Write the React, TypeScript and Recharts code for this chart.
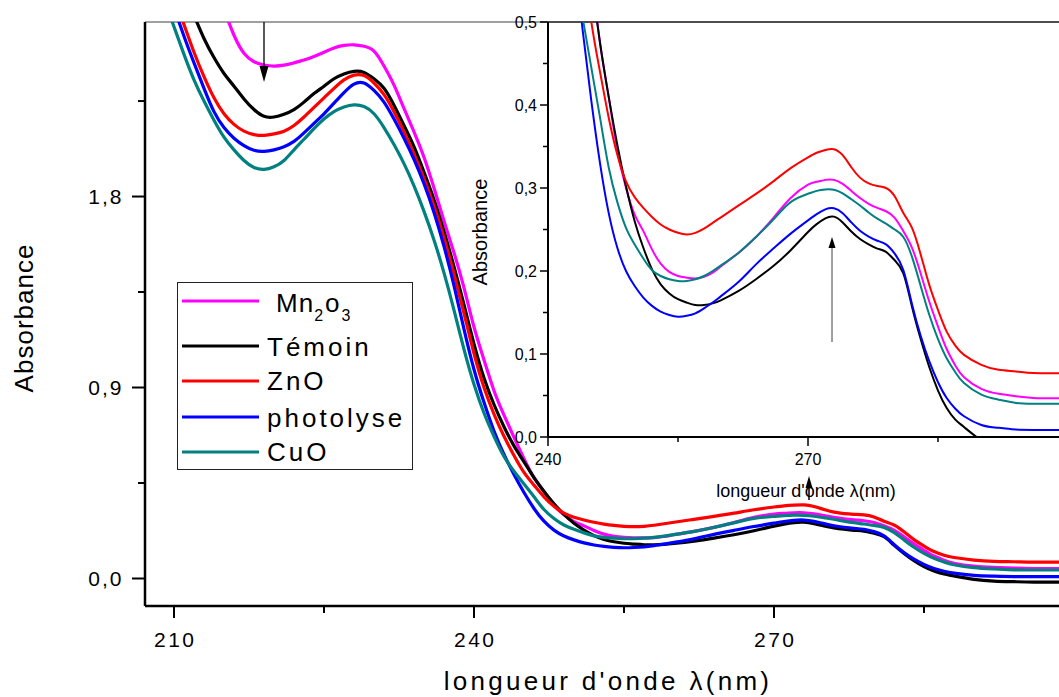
import React from 'react';
import { LineChart, Line, XAxis, YAxis, ReferenceLine, Legend } from 'recharts';

const FONT = "'Liberation Sans', Arial, Helvetica, sans-serif";

// wavelength (nm)
const WAVELENGTH = [
  207, 208, 209, 210, 211, 212, 213, 214, 215, 216, 217, 218, 219, 220, 221, 222, 223, 224, 225, 226,
  227, 228, 229, 230, 231, 232, 233, 234, 235, 236, 237, 238, 239, 240, 241, 242, 243, 244, 245, 246,
  247, 248, 249, 250, 251, 252, 253, 254, 255, 256, 257, 258, 259, 260,
  262, 264, 266, 268, 270, 271, 272, 273, 274, 275, 276, 277, 278, 279, 280, 281, 282, 283, 284, 285,
  286, 287, 288, 290, 292, 294, 296, 299,
];

const MN2O3 = [
  4.06, 3.88, 3.7, 3.52, 3.34, 3.16, 2.99, 2.83, 2.685, 2.56, 2.475, 2.435, 2.42, 2.415, 2.419, 2.43, 2.443, 2.46, 2.48, 2.5,
  2.512, 2.515, 2.508, 2.485, 2.415, 2.325, 2.215, 2.105, 1.985, 1.84, 1.685, 1.535, 1.37, 1.185, 1.03, 0.885, 0.77, 0.665, 0.565, 0.475,
  0.41, 0.345, 0.3, 0.268, 0.248, 0.226, 0.209, 0.199, 0.194, 0.192, 0.191, 0.193, 0.198, 0.206,
  0.222, 0.241, 0.264, 0.288, 0.304, 0.3075, 0.3098, 0.3098, 0.305, 0.2965, 0.288, 0.281, 0.276, 0.272, 0.264, 0.248, 0.228, 0.197, 0.163, 0.133,
  0.106, 0.086, 0.072, 0.058, 0.052, 0.049, 0.047, 0.0466,
];

const TEMOIN = [
  3.28, 3.15, 3.025, 2.9, 2.775, 2.655, 2.545, 2.455, 2.38, 2.32, 2.26, 2.21, 2.178, 2.175, 2.188, 2.21, 2.245, 2.285, 2.32, 2.355,
  2.378, 2.39, 2.385, 2.355, 2.31, 2.23, 2.135, 2.035, 1.915, 1.785, 1.635, 1.47, 1.29, 1.105, 0.945, 0.82, 0.715, 0.625, 0.55, 0.475,
  0.41, 0.352, 0.302, 0.26, 0.228, 0.202, 0.184, 0.173, 0.166, 0.162, 0.159, 0.159, 0.161, 0.165,
  0.176, 0.19, 0.206, 0.225, 0.247, 0.2565, 0.2635, 0.2655, 0.2585, 0.2475, 0.2385, 0.232, 0.227, 0.223, 0.213, 0.197, 0.157, 0.118, 0.084, 0.056,
  0.035, 0.021, 0.012, -0.004, -0.012, -0.015, -0.017, -0.017,
];

const ZNO = [
  3.14, 3.0, 2.87, 2.74, 2.61, 2.48, 2.365, 2.265, 2.19, 2.14, 2.108, 2.092, 2.088, 2.095, 2.108, 2.135, 2.175, 2.22, 2.265, 2.31,
  2.35, 2.372, 2.37, 2.335, 2.28, 2.2, 2.105, 2.0, 1.885, 1.755, 1.605, 1.435, 1.25, 1.06, 0.9, 0.775, 0.67, 0.58, 0.5, 0.44,
  0.385, 0.34, 0.308, 0.289, 0.276, 0.265, 0.256, 0.25, 0.246, 0.244, 0.246, 0.251, 0.258, 0.265,
  0.279, 0.293, 0.308, 0.324, 0.337, 0.3425, 0.3458, 0.3468, 0.3395, 0.325, 0.3125, 0.3055, 0.3025, 0.3, 0.29, 0.27, 0.252, 0.22, 0.183, 0.153,
  0.127, 0.11, 0.099, 0.087, 0.081, 0.079, 0.077, 0.0767,
];

const PHOTOLYSE = [
  3.08, 2.95, 2.82, 2.69, 2.555, 2.43, 2.31, 2.2, 2.125, 2.075, 2.04, 2.018, 2.013, 2.02, 2.035, 2.06, 2.1, 2.145, 2.19, 2.24,
  2.29, 2.33, 2.335, 2.3, 2.245, 2.165, 2.075, 1.975, 1.86, 1.725, 1.565, 1.38, 1.175, 0.985, 0.83, 0.695, 0.585, 0.49, 0.405, 0.33,
  0.27, 0.228, 0.2, 0.182, 0.168, 0.158, 0.151, 0.147, 0.145, 0.146, 0.149, 0.155, 0.162, 0.17,
  0.187, 0.208, 0.227, 0.245, 0.261, 0.2685, 0.2742, 0.2755, 0.2695, 0.2585, 0.2485, 0.2415, 0.2365, 0.232, 0.221, 0.201, 0.16, 0.122, 0.091, 0.066,
  0.047, 0.034, 0.025, 0.0145, 0.011, 0.009, 0.0085, 0.0084,
];

const CUO = [
  2.99, 2.86, 2.73, 2.6, 2.47, 2.35, 2.25, 2.16, 2.08, 2.02, 1.97, 1.937, 1.928, 1.94, 1.97, 2.02, 2.07, 2.12, 2.165, 2.2,
  2.222, 2.232, 2.224, 2.19, 2.125, 2.045, 1.955, 1.85, 1.73, 1.595, 1.44, 1.265, 1.08, 0.915, 0.78, 0.67, 0.575, 0.505, 0.445, 0.385,
  0.325, 0.283, 0.252, 0.232, 0.215, 0.201, 0.194, 0.19, 0.188, 0.188, 0.19, 0.194, 0.2, 0.207,
  0.222, 0.241, 0.262, 0.283, 0.293, 0.2965, 0.2982, 0.2978, 0.2935, 0.2865, 0.279, 0.2705, 0.263, 0.257, 0.25, 0.241, 0.217, 0.182, 0.147, 0.118,
  0.095, 0.078, 0.065, 0.051, 0.045, 0.041, 0.04, 0.04,
];

const SERIES = [
  { key: 'mn2o3', label: 'Mn2o3', color: '#FF00FF' },
  { key: 'temoin', label: 'Témoin', color: '#000000' },
  { key: 'zno', label: 'ZnO', color: '#FF0000' },
  { key: 'photolyse', label: 'photolyse', color: '#0000FF' },
  { key: 'cuo', label: 'CuO', color: '#008080' },
];

const MAIN_X_TICKS = [210, 225, 240, 255, 270, 285];
const MAIN_X_LABELS = [210, 240, 270];
const MAIN_Y_TICKS = [0, 0.45, 0.9, 1.35, 1.8, 2.25];
const MAIN_Y_LABELS = [0, 0.9, 1.8];
const INSET_X_TICKS = [240, 255, 270, 285];
const INSET_X_LABELS = [240, 270];
const INSET_Y_TICKS = [0, 0.05, 0.1, 0.15, 0.2, 0.25, 0.3, 0.35, 0.4, 0.45, 0.5];
const INSET_Y_LABELS = [0, 0.1, 0.2, 0.3, 0.4, 0.5];

const MAIN_X_DOMAIN = [207.1, 298.5];
const MAIN_Y_DOMAIN = [-0.1296, 2.6225];
const INSET_X_DOMAIN = [240, 298.96];
const INSET_Y_DOMAIN = [0, 0.5];

const rows = WAVELENGTH.map((nm, i) => ({
  nm,
  mn2o3: MN2O3[i],
  temoin: TEMOIN[i],
  zno: ZNO[i],
  photolyse: PHOTOLYSE[i],
  cuo: CUO[i],
}));

const isIn = (list: number[], v: number) => list.some((m) => Math.abs(m - v) < 1e-6);
const fmt = (v: number) => v.toFixed(1).replace('.', ',');

const MainXTick = (props: any) => {
  const { x, y, payload } = props;
  const major = isIn(MAIN_X_LABELS, payload.value);
  return (
    <g>
      <line x1={x} x2={x} y1={y} y2={y + (major ? 12 : 7)} stroke="#000" strokeWidth={2} />
      {major && (
        <text x={x + 1.25} y={y + 41} textAnchor="middle" fontSize={21} letterSpacing={2.5} fontFamily={FONT} fill="#000">
          {payload.value}
        </text>
      )}
    </g>
  );
};

const MainYTick = (props: any) => {
  const { x, y, payload } = props;
  const major = isIn(MAIN_Y_LABELS, payload.value);
  return (
    <g>
      <line x1={x} x2={x - (major ? 13 : 7)} y1={y} y2={y} stroke="#000" strokeWidth={2} />
      {major && (
        <text x={x - 21.5} y={y + 7.5} textAnchor="end" fontSize={21} letterSpacing={2} fontFamily={FONT} fill="#000">
          {fmt(payload.value)}
        </text>
      )}
    </g>
  );
};

const InsetXTick = (props: any) => {
  const { x, y, payload } = props;
  const major = isIn(INSET_X_LABELS, payload.value);
  return (
    <g>
      <line x1={x} x2={x} y1={y} y2={y + (major ? 9 : 5)} stroke="#000" strokeWidth={1.5} />
      {major && (
        <text x={x} y={y + 28} textAnchor="middle" fontSize={16} fontFamily={FONT} fill="#000">
          {payload.value}
        </text>
      )}
    </g>
  );
};

const InsetYTick = (props: any) => {
  const { x, y, payload } = props;
  const major = isIn(INSET_Y_LABELS, payload.value);
  return (
    <g>
      <line x1={x} x2={x - (major ? 8 : 5)} y1={y} y2={y} stroke="#000" strokeWidth={1.5} />
      {major && (
        <text x={x - 11} y={y + 6} textAnchor="end" fontSize={16} fontFamily={FONT} fill="#000">
          {fmt(payload.value)}
        </text>
      )}
    </g>
  );
};

const MainXTitle = () => (
  <text x={608} y={690} textAnchor="middle" fontSize={26} letterSpacing={3.3} fontFamily={FONT} fill="#000">
    longueur d'onde λ(nm)
  </text>
);

const MainYTitle = () => (
  <text x={33} y={318} transform="rotate(-90 33 318)" textAnchor="middle" fontSize={26} letterSpacing={1} fontFamily={FONT} fill="#000">
    Absorbance
  </text>
);

const InsetXTitle = () => (
  <text x={806} y={497} textAnchor="middle" fontSize={18} fontFamily={FONT} fill="#000">
    longueur d'onde λ(nm)
  </text>
);

const InsetYTitle = () => (
  <text x={487} y={232} transform="rotate(-90 487 232)" textAnchor="middle" fontSize={20} fontFamily={FONT} fill="#000">
    Absorbance
  </text>
);

const DownArrow = (p: any) => {
  const { x1, y1, x2, y2 } = p;
  return (
    <g>
      <line x1={x1} y1={y1} x2={x2} y2={y2 - 14} stroke="#000" strokeWidth={1.3} />
      <polygon points={`${x2 - 4.5},${y2 - 16} ${x2 + 4.5},${y2 - 16} ${x2},${y2}`} fill="#000" />
    </g>
  );
};

const UpArrowSmall = (p: any) => {
  const { x1, y1, x2, y2 } = p;
  return (
    <g>
      <line x1={x1} y1={y1} x2={x2} y2={y2 + 10} stroke="#000" strokeWidth={1.5} />
      <polygon points={`${x2 - 3.5},${y2 + 12} ${x2 + 3.5},${y2 + 12} ${x2},${y2}`} fill="#000" />
    </g>
  );
};

const UpArrowInset = (p: any) => {
  const { x1, y1, x2, y2 } = p;
  return (
    <g>
      <line x1={x1} y1={y1} x2={x2} y2={y2 + 9} stroke="#808080" strokeWidth={1.5} />
      <polygon points={`${x2 - 3.5},${y2 + 11} ${x2 + 3.5},${y2 + 11} ${x2},${y2}`} fill="#000" />
    </g>
  );
};

const LEGEND_ROWS = [19, 64, 99, 135, 170];
const LEGEND_BASE = [30, 74, 108, 145, 179];

const LegendBox = () => (
  <svg width={237} height={189} style={{ display: 'block', overflow: 'visible' }}>
    <rect x={0.5} y={0.5} width={235} height={187} fill="#fff" stroke="#222" strokeWidth={1} />
    {SERIES.map((s, i) => (
      <g key={s.key}>
        <line x1={5} x2={82} y1={LEGEND_ROWS[i]} y2={LEGEND_ROWS[i]} stroke={s.color} strokeWidth={3} />
        {s.key === 'mn2o3' ? (
          <text x={99} y={LEGEND_BASE[i]} fontSize={26} letterSpacing={1} fontFamily={FONT} fill="#000">
            Mn
            <tspan dy={9} fontSize={16}>2</tspan>
            <tspan dy={-9} dx={1}>o</tspan>
            <tspan dy={9} dx={1} fontSize={16}>3</tspan>
          </text>
        ) : (
          <text x={90} y={LEGEND_BASE[i]} fontSize={26} letterSpacing={3} fontFamily={FONT} fill="#000">
            {s.label}
          </text>
        )}
      </g>
    ))}
  </svg>
);

export default function App() {
  return (
    <div style={{ position: 'absolute', left: 0, top: 0, width: 1059, height: 697, background: '#fff', overflow: 'hidden' }}>
      <div style={{ position: 'absolute', left: 0, top: 0 }}>
        <LineChart width={1059} height={697} data={rows} margin={{ top: 22, right: 0, bottom: 0, left: 0 }}>
          <XAxis
            dataKey="nm"
            type="number"
            domain={MAIN_X_DOMAIN}
            allowDataOverflow
            ticks={MAIN_X_TICKS}
            interval={0}
            height={91}
            tickSize={0}
            tickMargin={0}
            tickLine={false}
            axisLine={{ stroke: '#000', strokeWidth: 2.5 }}
            tick={<MainXTick />}
            label={<MainXTitle />}
          />
          <YAxis
            type="number"
            domain={MAIN_Y_DOMAIN}
            allowDataOverflow
            ticks={MAIN_Y_TICKS}
            interval={0}
            width={145}
            tickSize={0}
            tickMargin={0}
            tickLine={false}
            axisLine={{ stroke: '#000', strokeWidth: 2.5 }}
            tick={<MainYTick />}
            label={<MainYTitle />}
          />
          <ReferenceLine y={MAIN_Y_DOMAIN[1]} ifOverflow="visible" stroke="#808080" strokeWidth={1.5} />
          {SERIES.map((s) => (
            <Line
              key={s.key}
              dataKey={s.key}
              name={s.label}
              type="natural"
              stroke={s.color}
              strokeWidth={3.2}
              dot={false}
              activeDot={false}
              isAnimationActive={false}
            />
          ))}
          <ReferenceLine
            ifOverflow="visible"
            segment={[{ x: 219, y: MAIN_Y_DOMAIN[1] }, { x: 219, y: 2.34 }]}
            shape={DownArrow}
          />
          <ReferenceLine
            ifOverflow="visible"
            segment={[{ x: 273.5, y: 0.37 }, { x: 273.5, y: 0.483 }]}
            shape={UpArrowSmall}
          />
          <Legend
            layout="vertical"
            align="center"
            verticalAlign="middle"
            width={237}
            height={189}
            wrapperStyle={{ left: 177, top: 282, width: 237, height: 189 }}
            content={<LegendBox />}
          />
        </LineChart>
      </div>
      <div style={{ position: 'absolute', left: 0, top: 0 }}>
        <LineChart width={1059} height={697} data={rows} margin={{ top: 22, right: 0, bottom: 0, left: 0 }}>
          <XAxis
            dataKey="nm"
            type="number"
            domain={INSET_X_DOMAIN}
            allowDataOverflow
            ticks={INSET_X_TICKS}
            interval={0}
            height={260}
            tickSize={0}
            tickMargin={0}
            tickLine={false}
            axisLine={{ stroke: '#000', strokeWidth: 2 }}
            tick={<InsetXTick />}
            label={<InsetXTitle />}
          />
          <YAxis
            type="number"
            domain={INSET_Y_DOMAIN}
            allowDataOverflow
            ticks={INSET_Y_TICKS}
            interval={0}
            width={548}
            tickSize={0}
            tickMargin={0}
            tickLine={false}
            axisLine={{ stroke: '#000', strokeWidth: 2 }}
            tick={<InsetYTick />}
            label={<InsetYTitle />}
          />
          <ReferenceLine y={INSET_Y_DOMAIN[1]} ifOverflow="visible" stroke="#333" strokeWidth={1.5} />
          {SERIES.map((s) => (
            <Line
              key={s.key}
              dataKey={s.key}
              name={s.label}
              type="natural"
              stroke={s.color}
              strokeWidth={2}
              dot={false}
              activeDot={false}
              isAnimationActive={false}
            />
          ))}
          <ReferenceLine
            ifOverflow="visible"
            segment={[{ x: 272.77, y: 0.1145 }, { x: 272.77, y: 0.241 }]}
            shape={UpArrowInset}
          />
        </LineChart>
      </div>
    </div>
  );
}
